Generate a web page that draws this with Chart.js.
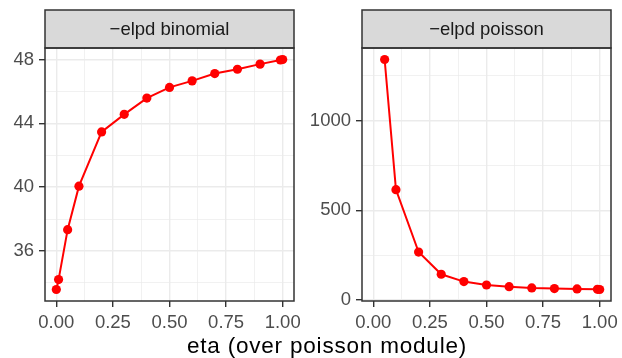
<!DOCTYPE html>
<html>
<head>
<meta charset="utf-8">
<script src="https://cdn.jsdelivr.net/npm/chart.js@4/dist/chart.umd.min.js"></script>
<style>
  body { margin: 0; background: #fff; }
  #wrap { position: relative; width: 622px; height: 358px; overflow: hidden; }
  canvas { position: absolute; top: 0; }
  #xtitle {
    position: absolute; left: 0; width: 654px; top: 335px;
    text-align: center; font: 22.5px "Liberation Sans", Arial, sans-serif;
    line-height: 22px; color: #000; letter-spacing: 0.8px;
  }
</style>
</head>
<body>
<div id="wrap">
  <canvas id="binom" width="300" height="358" style="left:0px"></canvas>
  <canvas id="pois" width="322" height="358" style="left:300px"></canvas>
  <div id="xtitle">eta (over poisson module)</div>
</div>
<script>
// values
const etaBinomial = [0, 0.01, 0.05, 0.1, 0.2, 0.3, 0.4, 0.5, 0.6, 0.7, 0.8, 0.9, 0.99, 1];
const elpdBinomial = [33.58, 34.2, 37.33, 40.06, 43.46, 44.56, 45.58, 46.25, 46.66, 47.12, 47.39, 47.71, 47.97, 48.0];

const etaPoisson = [0.05, 0.1, 0.2, 0.3, 0.4, 0.5, 0.6, 0.7, 0.8, 0.9, 0.99, 1];
const elpdPoisson = [1341, 615, 267, 143, 102, 83, 74, 67, 63, 61, 59, 58];

const xTicks = [0, 0.25, 0.5, 0.75, 1];
const binomialTicks = [36, 40, 44, 48];
const poissonTicks = [0, 500, 1000];

const FONT = "'Liberation Sans', Arial, sans-serif";

// add minor ticks half way between majors (ggplot style)
function withMinor(major, lo, hi) {
  const step = major[1] - major[0];
  const out = [];
  for (let v = major[0] - step / 2; v <= hi; v += step / 2) {
    if (v < lo) continue;
    const isMajor = major.some(m => Math.abs(m - v) < 1e-9);
    out.push({ value: v, minor: !isMajor });
  }
  return out;
}

function expand(vals) {
  const lo = Math.min(...vals), hi = Math.max(...vals);
  const pad = (hi - lo) * 0.05;
  return [lo - pad, hi + pad];
}

const stripPlugin = {
  id: 'strip',
  beforeInit(chart) {
    chart.ctx.letterSpacing = '0.6px';
  },
  afterDraw(chart) {
    const { ctx, chartArea } = chart;
    const title = chart.options.plugins.strip.text;
    ctx.save();
    ctx.fillStyle = '#D9D9D9';
    ctx.fillRect(chartArea.left, 10, chartArea.right - chartArea.left, chartArea.top - 10);
    ctx.strokeStyle = '#333333';
    ctx.lineWidth = 1.5;
    ctx.strokeRect(chartArea.left, 10, chartArea.right - chartArea.left, chartArea.top - 10);
    ctx.strokeRect(chartArea.left, chartArea.top, chartArea.right - chartArea.left, chartArea.bottom - chartArea.top);
    ctx.fillStyle = '#1A1A1A';
    ctx.font = '18.5px ' + FONT;
    ctx.textAlign = 'center';
    ctx.textBaseline = 'middle';
    ctx.fillText(title, (chartArea.left + chartArea.right) / 2, (10 + chartArea.top) / 2 + 1);
    ctx.restore();
  }
};

function makePanel(id, xs, ys, yMajor, stripText, yWidth, rightPad) {
  const [ymin, ymax] = expand(ys);
  const xr = expand([0, 1]);
  const grid = {
    color: '#EBEBEB',
    lineWidth: c => (c.tick && c.tick.minor ? 0.7 : 1.4),
    tickLength: 6,
    tickWidth: 1.4,
    tickColor: c => (c.tick && c.tick.minor ? 'rgba(0,0,0,0)' : '#333333'),
  };
  new Chart(document.getElementById(id), {
    type: 'scatter',
    data: {
      datasets: [{
        data: xs.map((x, i) => ({ x: x, y: ys[i] })),
        showLine: true,
        borderColor: '#FF0000',
        borderWidth: 2,
        backgroundColor: '#FF0000',
        pointBackgroundColor: '#FF0000',
        pointBorderWidth: 0,
        pointRadius: 4.6,
        clip: false,
      }]
    },
    options: {
      responsive: false,
      animation: false,
      layout: { padding: { top: 48, right: rightPad, left: 0, bottom: 0 } },
      plugins: {
        legend: { display: false },
        tooltip: { enabled: false },
        strip: { text: stripText },
      },
      scales: {
        x: {
          type: 'linear',
          min: xr[0], max: xr[1],
          grid: grid,
          border: { display: false },
          afterBuildTicks: s => { s.ticks = withMinor(xTicks, xr[0], xr[1]); },
          afterFit: s => { s.height = 57; s.paddingLeft = 0; s.paddingRight = 0; },
          ticks: {
            autoSkip: false, maxRotation: 0, padding: 5,
            color: '#4D4D4D', font: { family: FONT, size: 18.5 },
            callback: (v, i, t) => (t[i].minor ? '' : v.toFixed(2)),
          },
        },
        y: {
          min: ymin, max: ymax,
          grid: grid,
          border: { display: false },
          afterBuildTicks: s => { s.ticks = withMinor(yMajor, ymin, ymax); },
          afterFit: s => { s.width = yWidth; s.paddingTop = 0; s.paddingBottom = 0; },
          ticks: {
            autoSkip: false, padding: 5,
            color: '#4D4D4D', font: { family: FONT, size: 18.5 },
            callback: (v, i, t) => (t[i].minor ? '' : String(Math.round(v))),
          },
        },
      },
    },
    plugins: [stripPlugin],
  });
}

makePanel('binom', etaBinomial, elpdBinomial, binomialTicks, '\u2212elpd binomial', 45, 6);
makePanel('pois', etaPoisson, elpdPoisson, poissonTicks, '\u2212elpd poisson', 62, 11);
</script>
</body>
</html>
